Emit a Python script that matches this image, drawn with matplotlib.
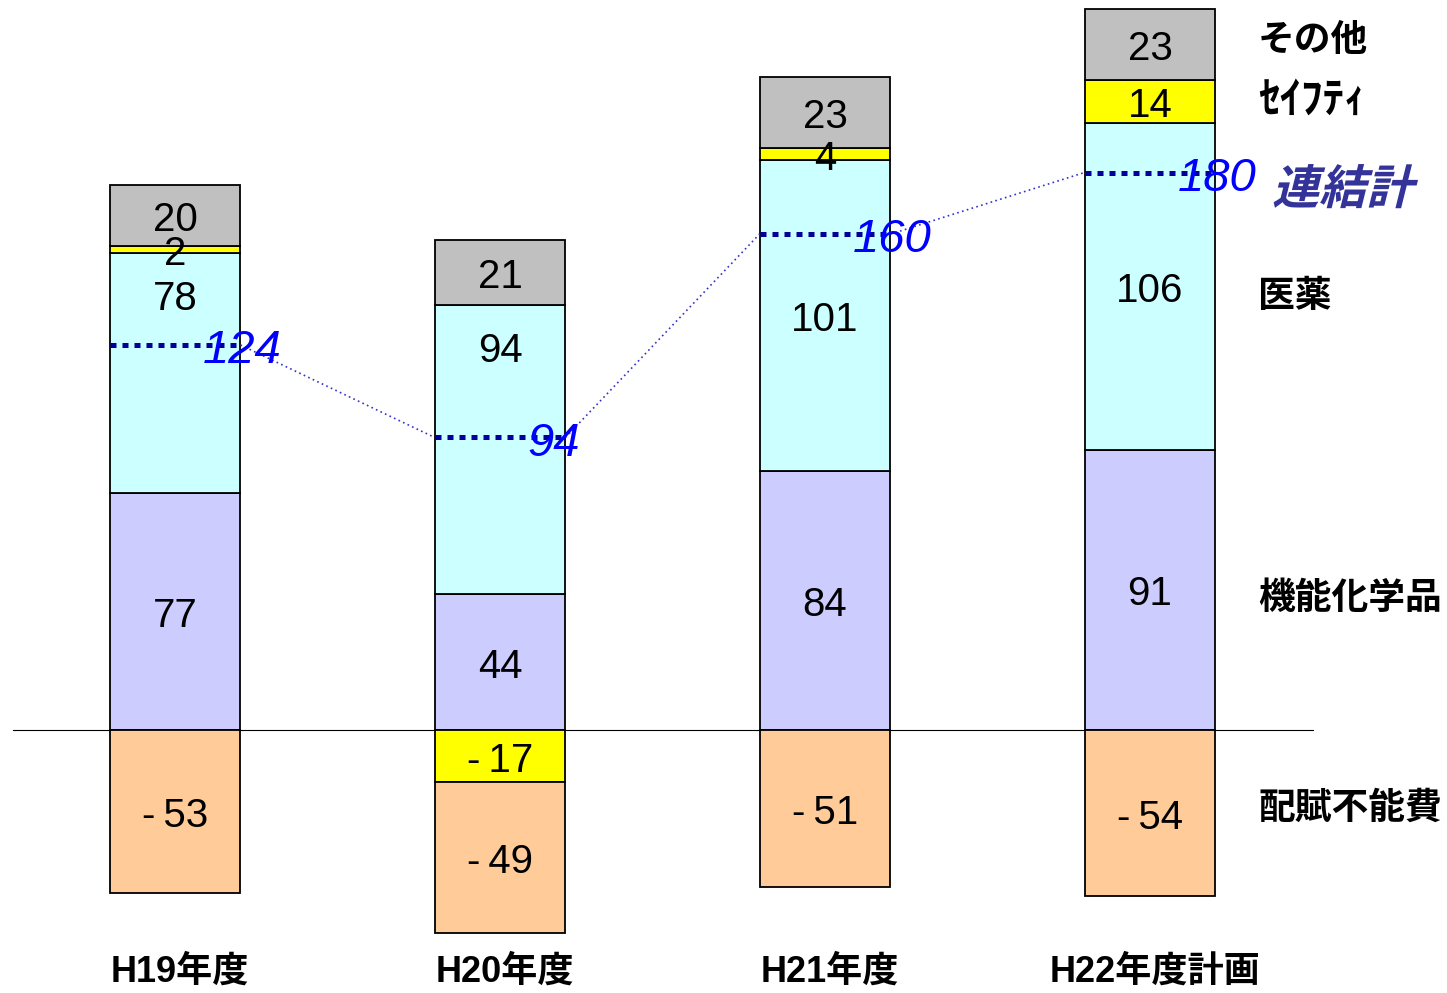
import matplotlib
matplotlib.use('Agg')
import matplotlib.pyplot as plt
from matplotlib.font_manager import FontProperties
from matplotlib.textpath import TextPath
from matplotlib.patches import PathPatch
from matplotlib.transforms import Affine2D, IdentityTransform

# data
categories = ['H19年度', 'H20年度', 'H21年度', 'H22年度計画']
chem = [77, 44, 84, 91]          # 機能化学品
pharma = [78, 94, 101, 106]      # 医薬
safety = [2, -17, 4, 14]         # セイフティ
other = [20, 21, 23, 23]         # その他
unalloc = [-53, -49, -51, -54]   # 配賦不能費
total = [124, 94, 160, 180]      # 連結計

series = [
    (chem, '#CCCCFF'),
    (pharma, '#CCFFFF'),
    (safety, '#FFFF00'),
    (other, '#C0C0C0'),
    (unalloc, '#FFCC99'),
]

W, H = 1447, 993
DPI = 100
fig = plt.figure(figsize=(W / DPI, H / DPI), dpi=DPI)
ax = fig.add_axes([0, 0, 1, 1])
ax.set_axis_off()

# map data to the reference pixel grid: bar centres at 175 + 325*i, zero at y=730
px_unit = 3.08
ax.set_xlim(-175 / 325, (W - 175) / 325)
ax.set_ylim(-(H - 730) / px_unit, 730 / px_unit)

bar_w = 0.403
num_font = ['Liberation Sans', 'DejaVu Sans']
jp_font = ['Liberation Sans', 'Noto Sans CJK JP']

xs = list(range(len(categories)))
pos_bottom = [0.0] * len(xs)
neg_bottom = [0.0] * len(xs)

for k, (vals, color) in enumerate(series):
    for i, v in enumerate(vals):
        if v >= 0:
            b = pos_bottom[i]
            pos_bottom[i] += v
        else:
            b = neg_bottom[i]
            neg_bottom[i] += v
        ax.bar(i, v, bottom=b, width=bar_w, color=color,
               edgecolor='black', linewidth=1.3, zorder=2)
        ly = b + v / 2 - 1.5
        # pharma labels on the first two bars sit near the top of the segment
        if vals is pharma and i < 2:
            ly = b + v - 15
        txt = str(v) if v >= 0 else '-\u2009' + str(-v)
        ax.text(i, ly, txt, ha='center', va='center', fontsize=29,
                family=num_font, color='black', zorder=5)

# zero line
ax.plot([-0.5, 3.5], [0, 0], color='black', linewidth=0.8, zorder=1)

# consolidated total markers and connecting thin dotted line
for i, t in enumerate(total):
    ax.plot([i - bar_w / 2, i + bar_w / 2], [t + 1, t + 1], color='#000099',
            linewidth=3.6, linestyle=(0, (1.2, 1.2)), zorder=4)
    ax.text(i + 0.085, t - 1, str(t), ha='left', va='center',
            fontsize=34, style='italic', family=num_font, color='#0000FF', zorder=6)
for i in range(len(total) - 1):
    ax.plot([i + bar_w / 2, i + 1 - bar_w / 2], [total[i] + 1, total[i + 1] + 1],
            color='#3333CC', linewidth=1.2, linestyle=(0, (1, 2)), zorder=3)

# category labels
for i, c in enumerate(categories):
    ax.text(i + 0.015, -78.5, c, ha='center', va='center', fontsize=26,
            fontweight='bold', family=jp_font)

# segment names on the right
right_x = (1258 - 175) / 325
side_labels = [('その他', 40, 26.5), ('ｾｲﾌﾃｨ', 100, 31), ('医薬', 296, 26.5),
               ('機能化学品', 598, 26.5), ('配賦不能費', 808, 26.5)]
for name, ypx, fs in side_labels:
    ax.text(right_x, (730 - ypx) / px_unit, name, ha='left', va='center',
            fontsize=fs, fontweight='bold', family=['Noto Sans CJK JP'])

# 連結計 in slanted bold (CJK font has no italic, so skew the glyph path)
tp = TextPath((0, 0), '連結計', size=47,
              prop=FontProperties(family='Noto Sans CJK JP', weight='bold'))
tr = Affine2D().skew_deg(14, 0).translate(1272, H - 204) + IdentityTransform()
ax.add_patch(PathPatch(tp, transform=tr, facecolor='#333399',
                       edgecolor='none', zorder=6, clip_on=False))

fig.savefig('out.png', dpi=DPI)
